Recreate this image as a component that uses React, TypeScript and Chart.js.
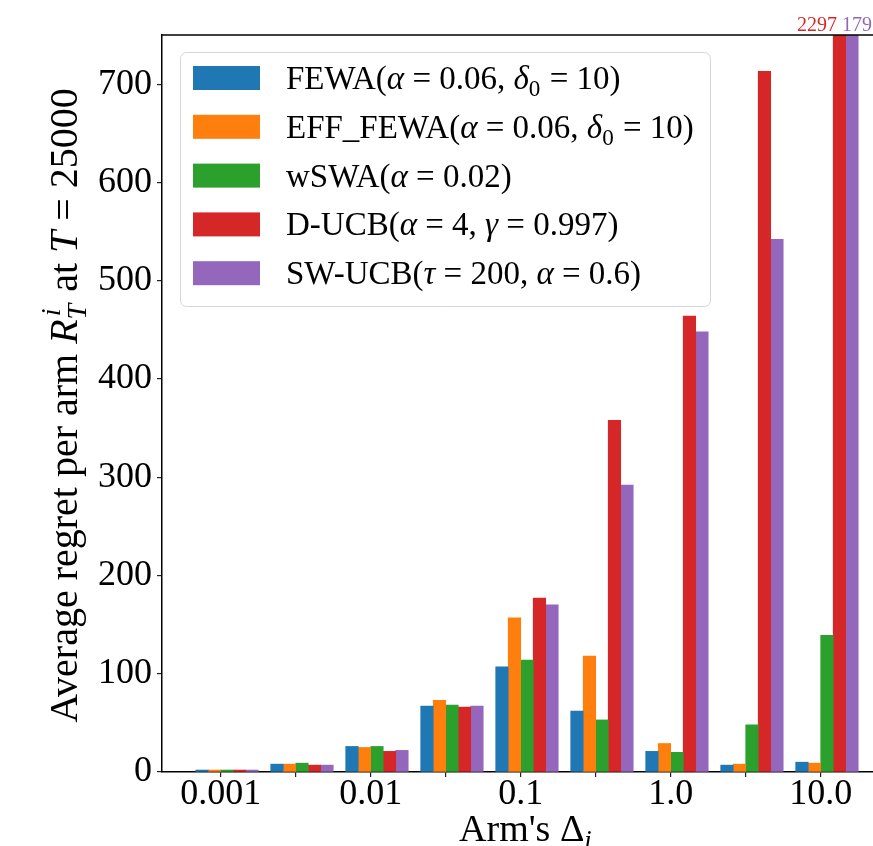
import React, { useEffect, useRef } from "react";
import { Chart, registerables } from "chart.js";

Chart.register(...registerables);

// ---- data ----
const xTickLabels = ["0.001", "", "0.01", "", "0.1", "", "1.0", "", "10.0"];
const yTicks = [0, 100, 200, 300, 400, 500, 600, 700];
const yMax = 750;

const fewa = [2, 8, 26, 67, 107, 62, 21, 7, 10];
const effFewa = [2, 8, 25, 73, 157, 118, 29, 8, 9];
const wswa = [2, 9, 26, 68, 114, 53, 20, 48, 139];
const dUcb = [2, 7, 21, 66, 177, 358, 464, 713, 2297];
const swUcb = [2, 7, 22, 67, 170, 292, 448, 542, 1797];

const seriesNames = [
  "FEWA(α = 0.06, δ0 = 10)",
  "EFF_FEWA(α = 0.06, δ0 = 10)",
  "wSWA(α = 0.02)",
  "D-UCB(α = 4, γ = 0.997)",
  "SW-UCB(τ = 200, α = 0.6)",
];
const seriesColors = ["#1f77b4", "#ff7f0e", "#2ca02c", "#d62728", "#9467bd"];

type Seg = { t: string; it?: boolean; pos?: "sub" | "sup" | "subsup"; t2?: string };

const legendLabels: Seg[][] = [
  [{ t: "FEWA(" }, { t: "α", it: true }, { t: " = 0.06, " }, { t: "δ", it: true }, { t: "0", pos: "sub" }, { t: " = 10)" }],
  [{ t: "EFF_FEWA(" }, { t: "α", it: true }, { t: " = 0.06, " }, { t: "δ", it: true }, { t: "0", pos: "sub" }, { t: " = 10)" }],
  [{ t: "wSWA(" }, { t: "α", it: true }, { t: " = 0.02)" }],
  [{ t: "D-UCB(" }, { t: "α", it: true }, { t: " = 4, " }, { t: "γ", it: true }, { t: " = 0.997)" }],
  [{ t: "SW-UCB(" }, { t: "τ", it: true }, { t: " = 200, " }, { t: "α", it: true }, { t: " = 0.6)" }],
];

const yTitle: Seg[] = [
  { t: "Average regret per arm " },
  { t: "R", it: true },
  { t: "T", t2: "i", pos: "subsup", it: true },
  { t: " at " },
  { t: "T", it: true },
  { t: " = 25000" },
];
const xTitle: Seg[] = [{ t: "Arm's Δ" }, { t: "i", pos: "sub", it: true }];

const FAMILY = "'Liberation Serif', 'Times New Roman', serif";

function fontStr(it: boolean | undefined, size: number) {
  return `${it ? "italic " : ""}${size}px ${FAMILY}`;
}

function richWidth(ctx: CanvasRenderingContext2D, segs: Seg[], size: number) {
  let w = 0;
  for (const s of segs) {
    if (s.pos === "subsup") {
      ctx.font = fontStr(s.it, size * 0.7);
      w += Math.max(ctx.measureText(s.t).width, ctx.measureText(s.t2 || "").width) + size * 0.05;
    } else if (s.pos) {
      ctx.font = fontStr(s.it, size * 0.7);
      w += ctx.measureText(s.t).width + size * 0.03;
    } else {
      ctx.font = fontStr(s.it, size);
      w += ctx.measureText(s.t).width;
    }
  }
  return w;
}

function drawRich(
  ctx: CanvasRenderingContext2D,
  segs: Seg[],
  x: number,
  y: number,
  size: number,
  align: "left" | "center",
  color: string
) {
  ctx.save();
  ctx.fillStyle = color;
  ctx.textBaseline = "alphabetic";
  ctx.textAlign = "left";
  let cx = align === "center" ? x - richWidth(ctx, segs, size) / 2 : x;
  for (const s of segs) {
    if (s.pos === "subsup") {
      ctx.font = fontStr(s.it, size * 0.7);
      const w1 = ctx.measureText(s.t).width;
      const w2 = ctx.measureText(s.t2 || "").width;
      ctx.fillText(s.t, cx, y + size * 0.22);
      ctx.fillText(s.t2 || "", cx + size * 0.08, y - size * 0.42);
      cx += Math.max(w1, w2) + size * 0.05;
    } else if (s.pos === "sub") {
      ctx.font = fontStr(s.it, size * 0.7);
      ctx.fillText(s.t, cx, y + size * 0.22);
      cx += ctx.measureText(s.t).width + size * 0.03;
    } else if (s.pos === "sup") {
      ctx.font = fontStr(s.it, size * 0.7);
      ctx.fillText(s.t, cx, y - size * 0.42);
      cx += ctx.measureText(s.t).width + size * 0.03;
    } else {
      ctx.font = fontStr(s.it, size);
      ctx.fillText(s.t, cx, y);
      cx += ctx.measureText(s.t).width;
    }
  }
  ctx.restore();
}

const allSeries = [fewa, effFewa, wswa, dUcb, swUcb];

const decorPlugin = {
  id: "decor",
  afterDraw(chart: any) {
    const ctx: CanvasRenderingContext2D = chart.ctx;
    const ca = chart.chartArea;
    ctx.save();
    // top spine
    ctx.strokeStyle = "#000";
    ctx.lineWidth = 1.5;
    ctx.beginPath();
    ctx.moveTo(ca.left, ca.top);
    ctx.lineTo(ca.right, ca.top);
    ctx.stroke();

    // clipped value annotations
    for (let i = 0; i < xTickLabels.length; i++) {
      const clipped: { v: number; c: string; x: number }[] = [];
      allSeries.forEach((arr, d) => {
        if (arr[i] > yMax) {
          const el = chart.getDatasetMeta(d + 1).data[i];
          clipped.push({ v: arr[i], c: seriesColors[d], x: el.x });
        }
      });
      if (clipped.length) {
        ctx.font = fontStr(false, 20);
        const parts = clipped.map((c) => String(c.v));
        const full = parts.join(" ");
        const tw = ctx.measureText(full).width;
        let px = clipped[0].x - tw / 2;
        ctx.textBaseline = "alphabetic";
        ctx.textAlign = "left";
        clipped.forEach((c, k) => {
          ctx.fillStyle = c.c;
          const s = parts[k] + (k < parts.length - 1 ? " " : "");
          ctx.fillText(s, px, ca.top - 4);
          px += ctx.measureText(s).width;
        });
      }
    }

    // legend
    const L = { x: ca.left + 18, y: ca.top + 17, w: 530, h: 254 };
    ctx.beginPath();
    (ctx as any).roundRect(L.x + 0.5, L.y + 0.5, L.w, L.h, 6);
    ctx.globalAlpha = 0.8;
    ctx.fillStyle = "#ffffff";
    ctx.fill();
    ctx.globalAlpha = 1;
    ctx.strokeStyle = "#d6d6d6";
    ctx.lineWidth = 1;
    ctx.stroke();
    legendLabels.forEach((segs, i) => {
      const cy = L.y + 26 + i * 48.8;
      ctx.fillStyle = seriesColors[i];
      ctx.fillRect(L.x + 13, cy - 12, 67, 24);
      drawRich(ctx, segs, L.x + 106, cy + 11, 33, "left", "#000");
    });

    // axis titles
    drawRich(ctx, xTitle, (ca.left + ca.right) / 2, 841, 38, "center", "#000");
    ctx.save();
    ctx.translate(77, (ca.top + ca.bottom) / 2 + 2);
    ctx.rotate(-Math.PI / 2);
    drawRich(ctx, yTitle, 0, 0, 40, "center", "#000");
    ctx.restore();

    ctx.restore();
  },
};

export default function App() {
  const ref = useRef<HTMLCanvasElement | null>(null);
  useEffect(() => {
    if (!ref.current) return;
    const toXY = (arr: number[]) => arr.map((v, i) => ({ x: i, y: v }));
    const datasets: any[] = [
      {
        label: "",
        data: xTickLabels.map((_, i) => ({ x: i, y: null })),
        backgroundColor: "rgba(0,0,0,0)",
        barThickness: 12.5,
      },
      ...allSeries.map((arr, d) => ({
        label: seriesNames[d],
        data: toXY(arr),
        backgroundColor: seriesColors[d],
        borderWidth: 0,
        barThickness: 12.5,
      })),
    ];
    const chart = new Chart(ref.current, {
      type: "bar",
      data: { datasets },
      options: {
        responsive: false,
        animation: false,
        devicePixelRatio: 1,
        layout: { padding: { top: 35, right: 30, left: 0, bottom: 0 } },
        plugins: { legend: { display: false }, tooltip: { enabled: false } },
        scales: {
          x: {
            type: "linear",
            offset: false,
            min: -0.783,
            max: 8.924,
            afterBuildTicks: (axis: any) => {
              axis.ticks = xTickLabels.map((_, i) => ({ value: i }));
            },
            afterFit: (axis: any) => {
              axis.height = 74;
            },
            ticks: {
              autoSkip: false,
              maxRotation: 0,
              minRotation: 0,
              padding: 0,
              color: "#000",
              font: { family: FAMILY, size: 36, lineHeight: 1 },
              callback: (_v: any, i: number) => xTickLabels[i] ?? "",
            },
            grid: { offset: false, drawOnChartArea: false, drawTicks: true, tickLength: 5, color: "#222", lineWidth: 1.2 },
            border: { display: true, color: "#000", width: 1.5 },
          },
          y: {
            min: 0,
            max: yMax,
            afterBuildTicks: (axis: any) => {
              axis.ticks = yTicks.map((v) => ({ value: v }));
            },
            afterFit: (axis: any) => {
              axis.width = 162;
            },
            ticks: {
              padding: 5,
              color: "#000",
              font: { family: FAMILY, size: 36 },
              callback: (v: any) => String(v),
            },
            grid: { drawOnChartArea: false, drawTicks: true, tickLength: 5, color: "#222", lineWidth: 1.2 },
            border: { display: true, color: "#000", width: 1.5 },
          },
        },
      } as any,
      plugins: [decorPlugin],
    });
    return () => chart.destroy();
  }, []);
  return (
    <div style={{ position: "absolute", left: 0, top: 0, width: 873, height: 846, overflow: "hidden", background: "#fff" }}>
      <canvas ref={ref} width={920} height={846} style={{ width: 920, height: 846, display: "block" }} />
    </div>
  );
}
